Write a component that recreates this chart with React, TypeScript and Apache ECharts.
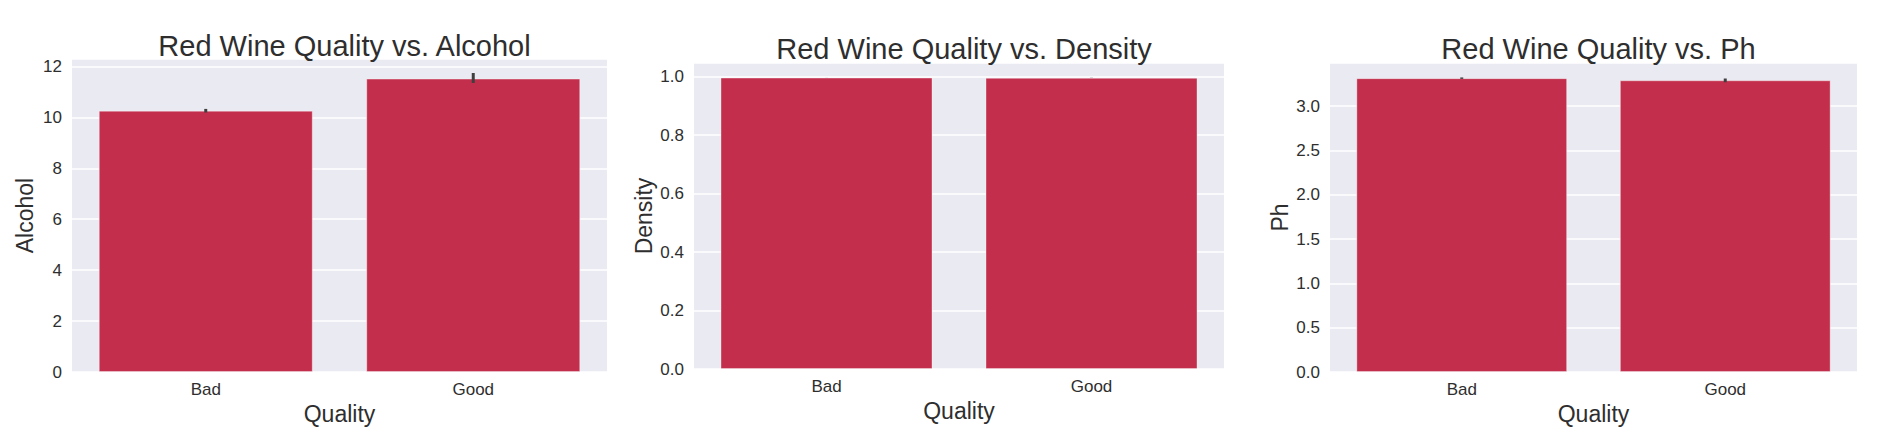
import React, { useEffect, useRef } from "react";
import * as echarts from "echarts";

const categories = ["Bad", "Good"];

const alcoholMean = [10.26, 11.52];
const alcoholLow = [10.19, 11.35];
const alcoholHigh = [10.33, 11.74];

const densityMean = [0.9968, 0.996];
const densityLow = [0.9967, 0.9957];
const densityHigh = [0.9969, 0.9963];

const phMean = [3.314, 3.29];
const phLow = [3.306, 3.268];
const phHigh = [3.322, 3.31];

const titles = [
  "Red Wine Quality vs. Alcohol",
  "Red Wine Quality vs. Density",
  "Red Wine Quality vs. Ph",
];
const yNames = ["Alcohol", "Density", "Ph"];
const xName = "Quality";

const FONT = "Liberation Sans, Arial, sans-serif";
const BAR = "#C22E4B";
const BG = "#EAEAF2";
const TEXT = "#2e2e2e";

export default function App() {
  const ref = useRef<HTMLDivElement>(null);
  useEffect(() => {
    if (!ref.current) return;
    const chart = echarts.init(ref.current, undefined, { renderer: "svg" });

    const grids = [
      { left: 72, top: 59, width: 535, height: 313 },
      { left: 694, top: 63, width: 530, height: 306 },
      { left: 1330, top: 63, width: 527, height: 309 },
    ];
    const yCfg = [
      { max: 12.29, interval: 2, dec: 0, gap: 36 },
      { max: 1.0467, interval: 0.2, dec: 1, gap: 39 },
      { max: 3.485, interval: 0.5, dec: 1, gap: 39 },
    ];
    const means = [alcoholMean, densityMean, phMean];
    const lows = [alcoholLow, densityLow, phLow];
    const highs = [alcoholHigh, densityHigh, phHigh];
    const titleTops = [26, 29, 29];

    const option: any = {
      animation: false,
      backgroundColor: "#ffffff",
      title: titles.map((t, i) => ({
        text: t,
        left: grids[i].left + grids[i].width / 2,
        top: titleTops[i],
        textAlign: "center",
        textStyle: { fontFamily: FONT, fontSize: 29, fontWeight: "normal", color: TEXT },
      })),
      grid: grids.map((g) => ({
        ...g,
        show: true,
        backgroundColor: BG,
        borderWidth: 0,
        containLabel: false,
      })),
      xAxis: grids.map((_, i) => ({
        type: "category",
        gridIndex: i,
        data: categories,
        name: xName,
        nameLocation: "middle",
        nameGap: 27,
        nameTextStyle: { fontFamily: FONT, fontSize: 23, color: TEXT },
        axisLine: { show: false },
        axisTick: { show: false },
        axisLabel: { fontFamily: FONT, fontSize: 17, color: TEXT, margin: 9 },
        splitLine: { show: false },
      })),
      yAxis: grids.map((_, i) => ({
        type: "value",
        gridIndex: i,
        min: 0,
        max: yCfg[i].max,
        interval: yCfg[i].interval,
        name: yNames[i],
        nameLocation: "middle",
        nameGap: yCfg[i].gap,
        nameTextStyle: { fontFamily: FONT, fontSize: 23, color: TEXT },
        axisLine: { show: false },
        axisTick: { show: false },
        axisLabel: {
          fontFamily: FONT,
          fontSize: 17,
          color: TEXT,
          margin: 10,
          showMaxLabel: false,
          formatter: (v: number) => v.toFixed(yCfg[i].dec),
        },
        splitLine: { show: true, lineStyle: { color: "#ffffff", width: 1.5 } },
      })),
      series: [
        ...means.map((m, i) => ({
          type: "bar",
          xAxisIndex: i,
          yAxisIndex: i,
          data: m,
          barWidth: "80%",
          itemStyle: { color: BAR, borderColor: "rgba(255,255,255,0.35)", borderWidth: 1 },
          z: 2,
        })),
        ...means.map((_, i) => ({
          type: "custom",
          xAxisIndex: i,
          yAxisIndex: i,
          data: categories.map((_c, k) => [k, lows[i][k], highs[i][k]]),
          encode: { x: 0, y: [1, 2] },
          z: 5,
          renderItem: (_params: any, api: any) => {
            const p1 = api.coord([api.value(0), api.value(1)]);
            const p2 = api.coord([api.value(0), api.value(2)]);
            return {
              type: "line",
              shape: { x1: p1[0], y1: p1[1], x2: p2[0], y2: p2[1] },
              style: { stroke: "#3f3f3f", lineWidth: 3 },
            };
          },
        })),
      ],
    };
    chart.setOption(option);
    return () => chart.dispose();
  }, []);

  return (
    <div
      ref={ref}
      style={{ position: "fixed", left: 0, top: 0, width: 1896, height: 440 }}
    />
  );
}
